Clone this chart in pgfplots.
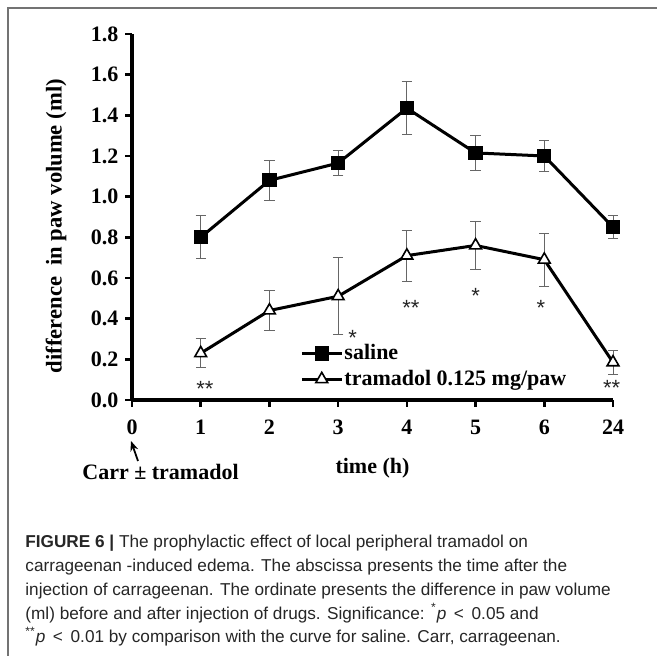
\documentclass[border=0pt]{standalone}
\usepackage{pgfplots}
\pgfplotsset{compat=1.18}
\usepackage{pgfplotstable}
\usepackage{fontspec}
\setmainfont{Liberation Serif}
\newfontfamily\capfont{Liberation Sans}
\newfontfamily\starfont{Liberation Sans}
\usetikzlibrary{arrows.meta}

% columns: position on the time axis, mean, SEM
\pgfplotstableread{
x   y      e
1   0.800  0.105
2   1.080  0.100
3   1.165  0.060
4   1.435  0.130
5   1.215  0.085
6   1.200  0.075
7   0.850  0.055
}\saline
\pgfplotstableread{
x   y      e
1   0.230  0.070
2   0.440  0.100
3   0.510  0.190
4   0.710  0.125
5   0.760  0.120
6   0.690  0.130
7   0.185  0.060
}\tramadol

\begin{document}
\begin{tikzpicture}[x=0.5pt,y=0.5pt]
\useasboundingbox (0,0) rectangle (657,656);
\clip (0,0) rectangle (657,656);
\fill[white] (0,0) rectangle (657,656);
% frame around the figure
\draw[line width=0.7pt, black!55] (8,648) rectangle (700,-50);
\coordinate (O) at (132,256);

\begin{axis}[
  at={(O)}, anchor=origin,
  scale only axis, width=240.5pt, height=183pt,
  xmin=0, xmax=7, ymin=0, ymax=1.8,
  axis x line*=bottom, axis y line*=left,
  axis line style={line width=1.6pt},
  xtick={0,1,2,3,4,5,6,7},
  xticklabels={0,1,2,3,4,5,6,24},
  ytick={0,0.2,...,1.8},
  tick align=outside,
  major tick length=3.3pt,
  tick style={line width=1.3pt, black},
  /pgf/number format/.cd, fixed, fixed zerofill, precision=1, assume math mode=true,
  /pgfplots/.cd,
  ticklabel style={font=\fontsize{11}{13}\selectfont\bfseries},
  xticklabel style={yshift=-3pt},
  xlabel={time (h)},
  xlabel style={font=\fontsize{11}{13}\selectfont\bfseries, at={(axis description cs:0.5,-0.2)}, anchor=base},
  ylabel={difference\ \ in paw volume (ml)},
  ylabel style={font=\fontsize{11.3}{13}\selectfont\bfseries, at={(axis description cs:-0.158,0.475)}, anchor=center},
  clip=false,
  legend style={at={(axis description cs:0.349,0.092)}, anchor=west, draw=none, fill=none,
    font=\fontsize{11}{13}\selectfont\bfseries, row sep=2.5pt, inner sep=0pt,
    nodes={inner sep=0.6pt}},
  legend cell align=left,
  legend image code/.code={\draw[mark repeat=2,mark phase=2,#1] plot coordinates {(0pt,0pt) (10pt,0pt) (20pt,0pt)};},
  error bars/error bar style={line width=0.5pt, black!60},
  error bars/error mark options={rotate=90, mark size=2.6pt, line width=0.5pt, black!60},
]
\addplot[line width=1.5pt, black, mark=square*, mark size=2.8pt,
  mark options={solid, fill=black},
  error bars/.cd, y dir=both, y explicit]
  table[x=x, y=y, y error=e] {\saline};
\addlegendentry{saline}
\addplot[line width=1.5pt, black, mark=triangle*, mark size=3.4pt,
  mark options={solid, fill=white, line width=0.8pt},
  error bars/.cd, y dir=both, y explicit]
  table[x=x, y=y, y error=e] {\tramadol};
\addlegendentry{tramadol 0.125 mg/paw}

% significance marks
\tikzset{star/.style={anchor=base, yshift=-6.3pt, inner sep=0pt,
  font=\starfont\fontsize{11}{12}\selectfont, text=black!85}}
\node[star] at (axis cs:1.06,0.080) {**};
\node[star] at (axis cs:3.21,0.330) {*};
\node[star] at (axis cs:4.06,0.477) {**};
\node[star] at (axis cs:5.00,0.535) {*};
\node[star] at (axis cs:5.95,0.477) {*};
\node[star] at (axis cs:6.98,0.082) {**};
\end{axis}

% time of injection
\draw[-{Stealth[length=5pt,width=4pt]}, line width=0.9pt] (138,195) -- (131,215);
\node[anchor=base west, inner sep=0pt, font=\fontsize{11}{13}\selectfont\bfseries] at (82,176) {Carr \textpm{} tramadol};

% legend text of the figure
\begin{scope}[every node/.style={anchor=base west, inner sep=0pt, text=black!85,
  font=\capfont\fontsize{8.6}{10}\selectfont}]
\node at (25,108) {{\bfseries FIGURE 6 |} The prophylactic effect of local peripheral tramadol on};
\node at (25,84.3) {carrageenan -induced edema. The abscissa presents the time after the};
\node at (25,60.6) {injection of carrageenan. The ordinate presents the difference in paw volume};
\node at (25,36.9) {(ml) before and after injection of drugs. Significance: \textsuperscript{*}\textit{p}\, <\, 0.05 and};
\node at (25,13.2) {\textsuperscript{**}\textit{p}\, <\, 0.01 by comparison with the curve for saline. Carr, carrageenan.};
\end{scope}
\end{tikzpicture}
\end{document}
